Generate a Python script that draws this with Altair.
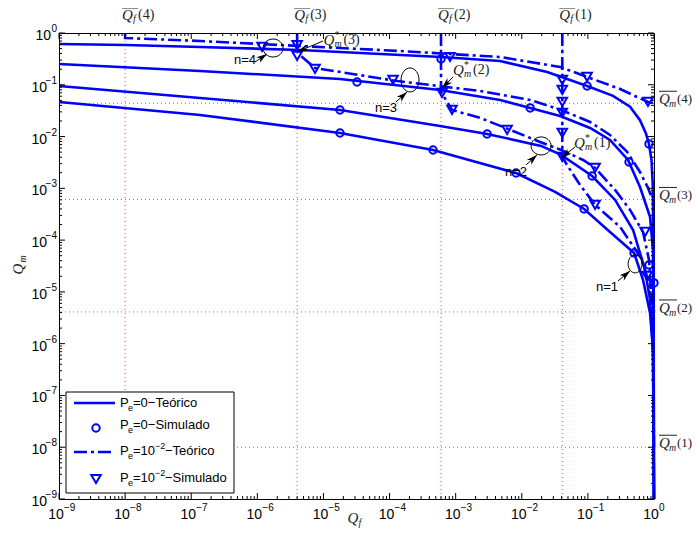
import math
import altair as alt
import pandas as pd

# ---------------- data ----------------
LABEL_NUM = ["(1)", "(2)", "(3)", "(4)"]
QF_BAR = [0.041, 6.0e-4, 4.0e-6, 1.0e-8]      # Qf_bar(1..4)
QM_BAR = [1.0e-8, 4.1e-6, 6.1e-4, 0.044]      # Qm_bar(1..4)

# Pe = 0, theoretical (solid)
QF_S1 = [1e-9, 1.36e-7, 1.78e-5, 4.55e-4, 8.20e-3, 0.0319, 0.0877, 0.216, 0.500, 0.682, 0.871, 0.966, 0.999]
QM_S1 = [0.0466, 0.0261, 0.01173, 0.00551, 0.00198, 8.53e-4, 4.0e-4, 1.44e-4, 5.66e-5, 1.71e-5, 3.93e-6, 7.6e-7, 1e-9]
QF_S2 = [1e-9, 1.36e-7, 1.78e-5, 5.81e-4, 2.99e-3, 0.0196, 0.0394, 0.116, 0.258, 0.483, 0.731, 0.871, 0.966, 0.999]
QM_S2 = [0.0948, 0.0556, 0.0326, 0.0160, 0.01122, 0.00659, 0.00442, 0.00173, 5.97e-4, 1.57e-4, 2.66e-5, 7.0e-6, 7.6e-7, 1e-9]
QF_S3 = [1e-9, 1.36e-7, 1.78e-5, 5.81e-4, 4.70e-3, 0.0134, 0.0380, 0.108, 0.216, 0.405, 0.614, 0.871, 0.966, 0.985, 0.999]
QM_S3 = [0.252, 0.185, 0.129, 0.0794, 0.0509, 0.0357, 0.0250, 0.01466, 0.00860, 0.00353, 0.00106, 2.81e-4, 6.47e-5, 2.9e-6, 1e-9]
QF_S4 = [1e-9, 1.03e-8, 1.36e-7, 4.43e-6, 6.01e-4, 4.70e-3, 0.0242, 0.0973, 0.240, 0.434, 0.614, 0.753, 0.840, 0.917, 0.958, 0.98, 0.99, 0.999]
QM_S4 = [0.614, 0.586, 0.537, 0.470, 0.344, 0.288, 0.177, 0.0948, 0.0611, 0.0377, 0.0207, 0.0116, 0.00720, 0.00352, 0.00116, 6.5e-5, 7.6e-7, 1e-9]

# Pe = 1e-2, theoretical (dash-dot)
QF_D1 = [0.041, 0.041, 0.0484, 0.0762, 0.1285, 0.307, 0.637, 0.787, 0.902, 0.966, 1.0]
QM_D1 = [1.0, 0.00404, 0.00283, 0.00116, 4.78e-4, 1.80e-4, 4.53e-5, 1.95e-5, 7.0e-6, 1.18e-6, 1.0e-8]
QF_D2 = [6.0e-4, 6.0e-4, 8.81e-4, 2.34e-3, 6.21e-3, 0.0189, 0.0394, 0.0845, 0.1285, 0.258, 0.434, 0.682, 0.840, 0.902, 1.0]
QM_D2 = [1.0, 0.0726, 0.0326, 0.0229, 0.0140, 0.00787, 0.00551, 0.00353, 0.00248, 9.31e-4, 3.83e-4, 1.44e-4, 4.15e-5, 1.09e-5, 4.1e-6]
QF_D3 = [4.0e-6, 4.0e-6, 4.58e-6, 7.46e-6, 1.30e-4, 2.34e-3, 0.0134, 0.0394, 0.108, 0.216, 0.392, 0.614, 0.811, 0.902, 1.0]
QM_D3 = [1.0, 0.586, 0.360, 0.211, 0.118, 0.0759, 0.0509, 0.0326, 0.0191, 0.01074, 0.00505, 0.00207, 0.00102, 7.13e-4, 6.1e-4]
QF_D4 = [1.0e-8, 1.0e-8, 1.36e-7, 4.43e-6, 1.44e-4, 4.70e-3, 0.0380, 0.0973, 0.307, 0.553, 0.811, 1.0]
QM_D4 = [1.0, 0.801, 0.701, 0.561, 0.449, 0.344, 0.221, 0.1415, 0.0830, 0.0581, 0.0466, 0.044]

# Pe = 0, simulated (circles)
CIRC_QF = [6.01e-4, 0.0973, 0.840, 3.22e-5, 0.0134, 0.419, 1.78e-5, 2.99e-3, 0.116,
           1.78e-5, 4.55e-4, 8.20e-3, 0.0877, 0.500, 0.840, 1.0]
CIRC_QM = [0.315, 0.0948, 0.00720, 0.113, 0.0357, 0.00323, 0.0326, 0.01122, 0.00173,
           0.01173, 0.00551, 0.00198, 4.0e-4, 5.66e-5, 3.32e-5, 1.49e-5]

# Pe = 1e-2, simulated (triangles)
TRI_QF = [1.18e-6, 8.22e-4, 0.0973, 0.811,
          4.0e-6, 4.0e-6, 7.46e-6, 1.13e-4,
          6.22e-4, 8.81e-4, 6.0e-3, 0.1285, 0.733,
          0.041, 0.041, 0.041, 0.041, 0.041, 0.041, 0.1285, 0.787]
TRI_QM = [0.537, 0.344, 0.1415, 0.0466,
          0.586, 0.360, 0.202, 0.124,
          0.0695, 0.0326, 0.0134, 0.00248, 1.44e-4,
          0.124, 0.0794, 0.0466, 0.0286, 0.01173, 0.00404, 4.78e-4, 2.04e-5]

# annotations
ELL_QF = [1.73e-6, 2.04e-4, 0.0196, 0.518]
ELL_QM = [0.513, 0.124, 0.00659, 3.47e-5]
ELL_RX = [10, 9, 10, 7]
ELL_RY = [9, 12, 9, 9]

N_LABEL_TXT = ["n=4", "n=3", "n=2", "n=1"]
N_LABEL_QF = [9.55e-7, 1.30e-4, 0.0120, 0.286]
N_LABEL_QM = [0.301, 0.0357, 0.00207, 1.25e-5]

ARROW_TAIL_QF = [9.22e-7, 1.25e-4, 0.01161, 0.286, 9.86e-6, 9.14e-4, 0.0640]
ARROW_TAIL_QM = [0.275, 0.0466, 0.00283, 1.63e-5, 0.701, 0.1415, 0.00630]
ARROW_TIP_QF = [1.40e-6, 1.84e-4, 0.0170, 0.434, 4.0e-6, 6.22e-4, 0.0394]
ARROW_TIP_QM = [0.393, 0.0726, 0.00442, 2.54e-5, 0.430, 0.0867, 0.00386]

QMSTAR_QF = [1.0e-5, 9.14e-4, 0.0618]
QMSTAR_QM = [0.733, 0.193, 0.00752]
QMSTAR_NUM = ["(3)", "(2)", "(1)"]

X_MAJOR = [10.0 ** k for k in range(-9, 1)]
X_MINOR = [m * 10.0 ** k for k in range(-9, 0) for m in range(2, 10)]
EXP_TXT = ["\u22129", "\u22128", "\u22127", "\u22126", "\u22125", "\u22124", "\u22123", "\u22122", "\u22121", "0"]

LEG_TEXT_A = ["=0\u2212Te\u00f3rico", "=0\u2212Simulado"]
LEG_TEXT_B = ["\u2212Te\u00f3rico", "\u2212Simulado"]

# ---------------- styling / layout ----------------
W, H = 595, 466
BLUE = "#0000ff"
SERIF = "Liberation Serif"
SANS = "Liberation Sans"
MATHC = "#222222"
GRIDC = "#f04848"
DASHDOT = [13, 4, 3, 4]

xs = alt.Scale(type="log", domain=[1e-9, 1], nice=False)
ys = alt.Scale(type="log", domain=[1e-9, 1], nice=False)


def X(f="qf"):
    return alt.X(f"{f}:Q", scale=xs, axis=None)


def Y(f="qm"):
    return alt.Y(f"{f}:Q", scale=ys, axis=None)


def curves(pairs):
    frames = []
    for n, (qf, qm) in enumerate(pairs, start=1):
        frames.append(pd.DataFrame({"qf": qf, "qm": qm, "n": n, "i": range(len(qf))}))
    return pd.concat(frames, ignore_index=True)


one = pd.DataFrame({"a": [0]})
layers = []

# grid (only at the special values)
layers.append(alt.Chart(pd.DataFrame({"qf": QF_BAR})).mark_rule(
    color=GRIDC, strokeDash=[1, 3], strokeWidth=1).encode(x=X()))
layers.append(alt.Chart(pd.DataFrame({"qm": QM_BAR})).mark_rule(
    color=GRIDC, strokeDash=[1, 3], strokeWidth=1).encode(y=Y()))

# curves
solid_df = curves([(QF_S1, QM_S1), (QF_S2, QM_S2), (QF_S3, QM_S3), (QF_S4, QM_S4)])
dash_df = curves([(QF_D1, QM_D1), (QF_D2, QM_D2), (QF_D3, QM_D3), (QF_D4, QM_D4)])
layers.append(alt.Chart(solid_df).mark_line(color=BLUE, strokeWidth=2.6).encode(
    x=X(), y=Y(), detail="n:N", order="i:Q"))
layers.append(alt.Chart(dash_df).mark_line(color=BLUE, strokeWidth=2.6, strokeDash=DASHDOT).encode(
    x=X(), y=Y(), detail="n:N", order="i:Q"))

# markers
layers.append(alt.Chart(pd.DataFrame({"qf": CIRC_QF, "qm": CIRC_QM})).mark_point(
    shape="circle", filled=False, color=BLUE, strokeWidth=2, size=55, opacity=1).encode(x=X(), y=Y()))
layers.append(alt.Chart(pd.DataFrame({"qf": TRI_QF, "qm": TRI_QM})).mark_point(
    shape="triangle-down", filled=False, color=BLUE, strokeWidth=2, size=90, opacity=1).encode(x=X(), y=Y()))

# ticks (inward, all four sides)
def tick_layer(vals, axis, side, length):
    base = alt.Chart(pd.DataFrame({"v": vals})).mark_rule(color="black", strokeWidth=1)
    if axis == "x":
        y0 = H if side == "bottom" else 0
        y1 = H - length if side == "bottom" else length
        return base.encode(x=X("v"), y=alt.value(y0), y2=alt.value(y1))
    x0 = 0 if side == "left" else W
    x1 = length if side == "left" else W - length
    return base.encode(y=Y("v"), x=alt.value(x0), x2=alt.value(x1))


for side in ["bottom", "top"]:
    layers.append(tick_layer(X_MAJOR, "x", side, 6))
    layers.append(tick_layer(X_MINOR, "x", side, 3))
for side in ["left", "right"]:
    layers.append(tick_layer(X_MAJOR, "y", side, 6))
    layers.append(tick_layer(X_MINOR, "y", side, 3))

# tick labels
xl = alt.Chart(pd.DataFrame({"v": X_MAJOR, "e": EXP_TXT}))
layers.append(xl.mark_text(text="10", font=SANS, fontSize=14, align="center", baseline="middle",
                           dx=-3, color="black").encode(x=X("v"), y=alt.value(H + 16)))
layers.append(xl.mark_text(font=SANS, fontSize=10, align="left", baseline="middle",
                           dx=5, color="black").encode(x=X("v"), y=alt.value(H + 9), text="e:N"))
yl_neg = alt.Chart(pd.DataFrame({"v": X_MAJOR[:-1], "e": EXP_TXT[:-1]}))
yl_zero = alt.Chart(pd.DataFrame({"v": X_MAJOR[-1:], "e": EXP_TXT[-1:]}))
layers.append(yl_neg.mark_text(text="10", font=SANS, fontSize=14, align="right", baseline="middle",
                               dy=3, color="black").encode(y=Y("v"), x=alt.value(-12)))
layers.append(yl_neg.mark_text(font=SANS, fontSize=10, align="right", baseline="middle",
                               dy=-4, color="black").encode(y=Y("v"), x=alt.value(-2), text="e:N"))
layers.append(yl_zero.mark_text(text="10", font=SANS, fontSize=14, align="right", baseline="middle",
                                dy=3, color="black").encode(y=Y("v"), x=alt.value(-8)))
layers.append(yl_zero.mark_text(font=SANS, fontSize=10, align="right", baseline="middle",
                                dy=-4, color="black").encode(y=Y("v"), x=alt.value(-2), text="e:N"))

# axis titles
layers.append(alt.Chart(one).mark_text(text="Q", font=SERIF, fontStyle="italic", fontSize=15,
                                       align="center", baseline="middle", color=MATHC).encode(
    x=alt.value(294), y=alt.value(485)))
layers.append(alt.Chart(one).mark_text(text="f", font=SERIF, fontStyle="italic", fontSize=10,
                                       align="center", baseline="middle", color=MATHC).encode(
    x=alt.value(301), y=alt.value(490)))
layers.append(alt.Chart(one).mark_text(text="Q", font=SERIF, fontStyle="italic", fontSize=15, angle=270,
                                       align="center", baseline="middle", color=MATHC).encode(
    x=alt.value(-41), y=alt.value(236)))
layers.append(alt.Chart(one).mark_text(text="m", font=SERIF, fontStyle="italic", fontSize=10, angle=270,
                                       align="center", baseline="middle", color=MATHC).encode(
    x=alt.value(-36), y=alt.value(226)))

# top labels  Qf_bar(n)
top = alt.Chart(pd.DataFrame({"qf": QF_BAR, "num": LABEL_NUM}))
layers.append(top.mark_text(text="Q", font=SERIF, fontStyle="italic", fontSize=15, align="left",
                            baseline="middle", dx=-3, color=MATHC).encode(x=X(), y=alt.value(-18)))
layers.append(top.mark_text(text="f", font=SERIF, fontStyle="italic", fontSize=10, align="left",
                            baseline="middle", dx=8, dy=4, color=MATHC).encode(x=X(), y=alt.value(-18)))
layers.append(top.mark_text(font=SERIF, fontSize=14, align="left", baseline="middle", dx=13,
                            color=MATHC).encode(x=X(), y=alt.value(-18), text="num:N"))
layers.append(top.mark_rule(color=MATHC, strokeWidth=1, xOffset=-3, x2Offset=13).encode(
    x=X(), x2=alt.X2("qf"), y=alt.value(-25)))

# right labels  Qm_bar(n)
right = alt.Chart(pd.DataFrame({"qf": [1.0] * 4, "qm": QM_BAR, "num": LABEL_NUM}))
layers.append(right.mark_text(text="Q", font=SERIF, fontStyle="italic", fontSize=15, align="left",
                              baseline="middle", dx=5, dy=-4, color=MATHC).encode(x=X(), y=Y()))
layers.append(right.mark_text(text="m", font=SERIF, fontStyle="italic", fontSize=10, align="left",
                              baseline="middle", dx=15, dy=1, color=MATHC).encode(x=X(), y=Y()))
layers.append(right.mark_text(font=SERIF, fontSize=13, align="left", baseline="middle", dx=23, dy=-4,
                              color=MATHC).encode(x=X(), y=Y(), text="num:N"))
layers.append(right.mark_rule(color=MATHC, strokeWidth=1, xOffset=5, x2Offset=23, yOffset=-12).encode(
    x=X(), x2=alt.X2("qf"), y=Y()))

# ellipses around curve groups
for qf, qm, rx, ry in zip(ELL_QF, ELL_QM, ELL_RX, ELL_RY):
    r = max(rx, ry)
    a, b = rx / r, ry / r
    path = f"M{-a},0A{a},{b} 0 1 0 {a},0A{a},{b} 0 1 0 {-a},0Z"
    layers.append(alt.Chart(pd.DataFrame({"qf": [qf], "qm": [qm]})).mark_point(
        shape=path, filled=False, color="black", strokeWidth=1, size=(2 * r) ** 2, opacity=1).encode(
        x=X(), y=Y()))

# arrows
angles = []
for tx, ty, hx, hy in zip(ARROW_TAIL_QF, ARROW_TAIL_QM, ARROW_TIP_QF, ARROW_TIP_QM):
    dxp = (math.log10(hx) - math.log10(tx)) * W / 9
    dyp = -(math.log10(hy) - math.log10(ty)) * H / 9
    angles.append(math.degrees(math.atan2(dxp, -dyp)) % 360)
arrow_df = pd.DataFrame({"x0": ARROW_TAIL_QF, "y0": ARROW_TAIL_QM, "qf": ARROW_TIP_QF,
                         "qm": ARROW_TIP_QM, "ang": angles})
layers.append(alt.Chart(arrow_df).mark_rule(color="black", strokeWidth=1).encode(
    x=X("x0"), y=Y("y0"), x2=alt.X2("qf"), y2=alt.Y2("qm")))
layers.append(alt.Chart(arrow_df).mark_point(
    shape="M0,0L-0.55,1.8L0,1.3L0.55,1.8Z", filled=True, color="black", size=144, opacity=1).encode(
    x=X(), y=Y(), angle=alt.Angle("ang:Q", scale=None)))

# n=k labels
layers.append(alt.Chart(pd.DataFrame({"qf": N_LABEL_QF, "qm": N_LABEL_QM, "t": N_LABEL_TXT})).mark_text(
    font=SANS, fontSize=13, align="right", baseline="middle", color="black").encode(
    x=X(), y=Y(), text="t:N"))

# Qm*(n) labels
qs = alt.Chart(pd.DataFrame({"qf": QMSTAR_QF, "qm": QMSTAR_QM, "num": QMSTAR_NUM}))
layers.append(qs.mark_text(text="Q", font=SERIF, fontStyle="italic", fontSize=15, align="left",
                           baseline="middle", color=MATHC).encode(x=X(), y=Y()))
layers.append(qs.mark_text(text="*", font=SERIF, fontSize=10, align="left",
                           baseline="middle", dx=11, dy=-5, color=MATHC).encode(x=X(), y=Y()))
layers.append(qs.mark_text(text="m", font=SERIF, fontStyle="italic", fontSize=10, align="left",
                           baseline="middle", dx=11, dy=4, color=MATHC).encode(x=X(), y=Y()))
layers.append(qs.mark_text(font=SERIF, fontSize=14, align="left", baseline="middle", dx=20,
                           color=MATHC).encode(x=X(), y=Y(), text="num:N"))

# legend (manual, drawn in the lower-left corner)
layers.append(alt.Chart(one).mark_rect(fill="white", stroke="black", strokeWidth=1).encode(
    x=alt.value(7), x2=alt.value(175), y=alt.value(359), y2=alt.value(460)))
layers.append(alt.Chart(one).mark_rule(color=BLUE, strokeWidth=2.6).encode(
    x=alt.value(15), x2=alt.value(56), y=alt.value(370)))
layers.append(alt.Chart(one).mark_rule(color=BLUE, strokeWidth=2.6, strokeDash=DASHDOT).encode(
    x=alt.value(15), x2=alt.value(56), y=alt.value(419)))
layers.append(alt.Chart(one).mark_point(shape="circle", filled=False, color=BLUE, strokeWidth=2,
                                        size=55, opacity=1).encode(x=alt.value(37), y=alt.value(395)))
layers.append(alt.Chart(one).mark_point(shape="triangle-down", filled=False, color=BLUE, strokeWidth=2,
                                        size=90, opacity=1).encode(x=alt.value(37), y=alt.value(446)))
leg_y = [370, 392, 418, 445]
for yy in leg_y:
    layers.append(alt.Chart(one).mark_text(text="P", font=SANS, fontSize=13, align="left",
                                           baseline="middle", color="black").encode(
        x=alt.value(61), y=alt.value(yy)))
    layers.append(alt.Chart(one).mark_text(text="e", font=SANS, fontSize=9, align="left",
                                           baseline="middle", color="black").encode(
        x=alt.value(69), y=alt.value(yy + 5)))
for yy, t in zip(leg_y[:2], LEG_TEXT_A):
    layers.append(alt.Chart(one).mark_text(text=t, font=SANS, fontSize=13, align="left",
                                           baseline="middle", color="black").encode(
        x=alt.value(74), y=alt.value(yy)))
for yy, t in zip(leg_y[2:], LEG_TEXT_B):
    layers.append(alt.Chart(one).mark_text(text="=10", font=SANS, fontSize=13, align="left",
                                           baseline="middle", color="black").encode(
        x=alt.value(74), y=alt.value(yy)))
    layers.append(alt.Chart(one).mark_text(text="\u22122", font=SANS, fontSize=9, align="left",
                                           baseline="middle", color="black").encode(
        x=alt.value(96), y=alt.value(yy - 5)))
    layers.append(alt.Chart(one).mark_text(text=t, font=SANS, fontSize=13, align="left",
                                           baseline="middle", color="black").encode(
        x=alt.value(106), y=alt.value(yy)))

chart = alt.layer(*layers).properties(
    width=W, height=H,
    padding={"left": 51, "top": 25, "right": 38, "bottom": 30},
    autosize=alt.AutoSizeParams(type="none"),
    background="white",
).configure_view(stroke="black", strokeWidth=1)

chart.save("out.html", embed_options={"renderer": "svg", "actions": False})
